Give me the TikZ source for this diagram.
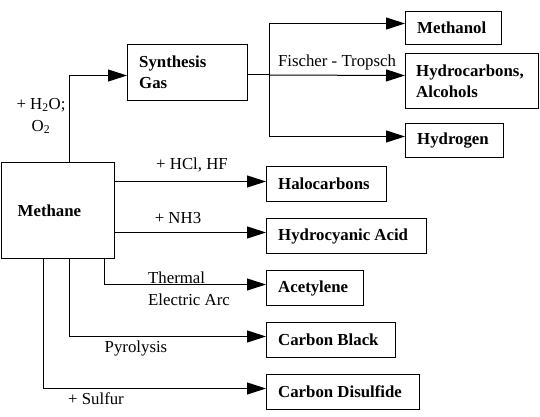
\documentclass[tikz,border=0pt]{standalone}
\usepackage{fontspec}
\setmainfont{Liberation Serif}
\newfontfamily\tnr{Liberation Serif}
\usetikzlibrary{arrows.meta}
\begin{document}
\begin{tikzpicture}[x=1pt,y=-1pt,
  box/.style={draw, line width=1pt, inner sep=0pt, anchor=north west},
  lbl/.style={font=\tnr\fontsize{16.8}{21}\selectfont\bfseries, anchor=west, align=left, inner sep=0pt},
  txt/.style={font=\tnr\fontsize{16.8}{22}\selectfont, inner sep=0pt},
  arr/.style={line width=1pt, -{Triangle[length=19pt,width=12pt]}},
  ln/.style={line width=1pt}]
\useasboundingbox (0,0) rectangle (540,417);
% boxes
\node[box, minimum width=113pt, minimum height=96pt] (methane) at (0.5,162) {};
\node[box, minimum width=120pt, minimum height=56pt] (syn) at (127,44) {};
\node[box, minimum width=96pt, minimum height=33pt] (meoh) at (405,11) {};
\node[box, minimum width=133pt, minimum height=55pt] (hc) at (405,53) {};
\node[box, minimum width=98pt, minimum height=34pt] (h2) at (405,123) {};
\node[box, minimum width=120pt, minimum height=35pt] (halo) at (266,166) {};
\node[box, minimum width=160pt, minimum height=35pt] (hcn) at (266,218) {};
\node[box, minimum width=97pt, minimum height=35pt] (acet) at (266,270) {};
\node[box, minimum width=129pt, minimum height=35pt] (cb) at (266,322) {};
\node[box, minimum width=153pt, minimum height=35pt] (cs2) at (266,374) {};
% box texts
\node[lbl] (tmethane) at ([xshift=17pt]methane.west) {Methane};
\node[lbl] (tsyn) at ([xshift=12pt]syn.west) {Synthesis\\Gas};
\node[lbl] (tmeoh) at ([xshift=12pt]meoh.west) {Methanol};
\node[lbl] (thc) at ([xshift=11pt]hc.west) {Hydrocarbons,\\Alcohols};
\node[lbl] (th2) at ([xshift=12pt]h2.west) {Hydrogen};
\node[lbl] (thalo) at ([xshift=12pt]halo.west) {Halocarbons};
\node[lbl] (thcn) at ([xshift=12pt]hcn.west) {Hydrocyanic Acid};
\node[lbl] (tacet) at ([xshift=12pt]acet.west) {Acetylene};
\node[lbl] (tcb) at ([xshift=12pt]cb.west) {Carbon Black};
\node[lbl] (tcs2) at ([xshift=12pt]cs2.west) {Carbon Disulfide};
% arrow targets
\coordinate (pSyn) at ([yshift=-3pt]syn.west);
\coordinate (pMeoh) at ([yshift=4.5pt]meoh.west);
\coordinate (pHc) at ([yshift=5.5pt]hc.west);
\coordinate (pH2) at ([yshift=4pt]h2.west);
\coordinate (pHalo) at ([yshift=2.5pt]halo.west);
\coordinate (pHcn) at ([yshift=3.5pt]hcn.west);
\coordinate (pAcet) at ([yshift=3.5pt]acet.west);
\coordinate (pCb) at ([yshift=3.5pt]cb.west);
\coordinate (pCs2) at ([yshift=3.5pt]cs2.west);
\coordinate (fork) at (269,75);
% connectors
\draw[arr] ([xshift=68.5pt]methane.north west) |- (pSyn);
\draw[ln] (syn.east |- fork) -- (fork);
\draw[arr] (fork) -- (pHc);
\draw[arr] (fork) |- (pMeoh);
\draw[arr] (fork) |- (pH2);
\draw[arr] (methane.east |- pHalo) -- (pHalo);
\draw[arr] (methane.east |- pHcn) -- (pHcn);
\draw[arr] ([xshift=103.5pt]methane.south west) |- (pAcet);
\draw[arr] ([xshift=68.5pt]methane.south west) |- (pCb);
\draw[arr] ([xshift=42.5pt]methane.south west) |- (pCs2);
% labels
\node[txt, align=center] (lh2o) at (41,116) {+ H\textsubscript{2}O;\\O\textsubscript{2}};
\node[txt] (lft) at (337,62) {Fischer - Tropsch};
\node[txt] (lhcl) at (192,165) {+ HCl, HF};
\node[txt] (lnh3) at (178,218) {+ NH3};
\node[txt, anchor=west, align=left] (lth) at (148,289) {Thermal\\Electric Arc};
\node[txt] (lpyr) at (136,348) {Pyrolysis};
\node[txt] (lsul) at (96,399) {+ Sulfur};
\end{tikzpicture}
\end{document}
